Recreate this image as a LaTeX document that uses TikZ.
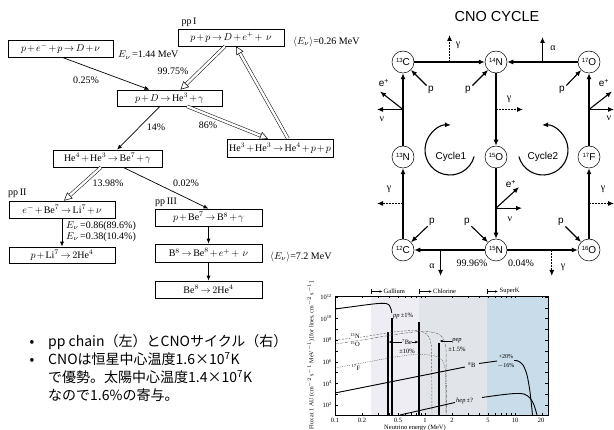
\documentclass[tikz,border=0pt]{standalone}
\usepackage{fontspec}
\setmainfont{Liberation Serif}
\newfontfamily\cnofont{Liberation Sans}
\newfontfamily\jpfont{Noto Sans CJK JP}
\usetikzlibrary{arrows.meta,calc}
\definecolor{gaband}{HTML}{EDEDF3}
\definecolor{clband}{HTML}{E1E4E8}
\definecolor{skband}{HTML}{C9DCEA}
\newcommand\myiso[2]{{\fontsize{6}{6}\selectfont\raisebox{3.2pt}{#1}}#2}
\newcommand\hollowarrow[2]{%
  \draw[hshaft, shorten >=5pt] (#1) -- (#2);
  \draw[hhead] ($(#2)!8pt!(#1)$) -- (#2);}
\begin{document}
\medmuskip=2mu
\thickmuskip=3mu
\begin{tikzpicture}[x=1pt,y=-1pt,
  rbox/.style={draw, line width=0.6pt, minimum width=106pt, minimum height=17pt, inner sep=0pt,
     font=\fontsize{10}{12}\selectfont},
  lbl/.style={inner sep=0pt, font=\fontsize{10}{12}\selectfont},
  sarr/.style={-{Latex[length=5pt,width=4pt]}, line width=0.7pt},
  hshaft/.style={double, double distance=2.4pt, line width=0.5pt},
  hhead/.style={-{Triangle[length=8pt,width=8pt,fill=white]}, line width=0.5pt},
  cn/.style={circle, draw, line width=0.5pt, minimum size=22pt, inner sep=0pt, font=\cnofont\fontsize{10}{10}\selectfont},
  ctxt/.style={inner sep=0pt, font=\cnofont\fontsize{10}{10}\selectfont},
  gtxt/.style={inner sep=0pt, font=\fontsize{10}{10}\selectfont},
  carr/.style={-{Latex[length=6pt,width=5pt]}, line width=1.1pt},
  darr/.style={carr, dash pattern=on 1.6pt off 1.4pt},
  ptxt/.style={inner sep=0pt, font=\fontsize{6.5}{7}\selectfont},
  pcurve/.style={line width=0.9pt},
  pline/.style={line width=1.1pt},
  parr/.style={-{Latex[length=3pt,width=2.5pt]}, line width=0.5pt},
  tk/.style={line width=0.4pt},
  jp/.style={inner sep=0pt, font=\jpfont\fontsize{14}{18}\selectfont}
]
\useasboundingbox (0,0) rectangle (614,430);

%% ---------------- pp chain ----------------
\node[rbox] (pp) at (231,37.5) {$p+p\to D+e^+ +\ \nu$};
\node[rbox, minimum width=105pt] (pep) at (60.5,48.5) {$p+e^-+p\to D+\nu$};
\node[rbox, minimum width=105pt, minimum height=16pt] (pD) at (169.5,98) {$p+D\to\mathrm{He}^3+\gamma$};
\node[rbox, minimum height=18pt] (HeHe) at (280,148) {$\mathrm{He}^3+\mathrm{He}^3\to\mathrm{He}^4+p+p$};
\node[rbox, minimum width=109pt] (HeBe) at (107.5,158.5) {$\mathrm{He}^4+\mathrm{He}^3\to\mathrm{Be}^7+\gamma$};
\node[rbox] (eBe) at (62,209.5) {$e^-+\mathrm{Be}^7\to\mathrm{Li}^7+\nu$};
\node[rbox, minimum height=16pt] (pLi) at (62,255) {$p+\mathrm{Li}^7\to 2\mathrm{He}^4$};
\node[rbox, minimum width=107pt] (pBe) at (208.5,217.5) {$p+\mathrm{Be}^7\to\mathrm{B}^8+\gamma$};
\node[rbox, minimum width=107pt, minimum height=18pt] (B8) at (208.5,253) {$\mathrm{B}^8\to\mathrm{Be}^8+e^+ +\ \nu$};
\node[rbox, minimum width=107pt] (Be8) at (208.5,289.5) {$\mathrm{Be}^8\to 2\mathrm{He}^4$};

\node[lbl] (ppIlab) at (189,22) {pp\,I};
\node[lbl, anchor=west] (ev026) at (293,42) {$\langle E_\nu\rangle$=0.26 MeV};
\node[lbl, anchor=west] (ev144) at (118,55) {$E_\nu$\,=1.44 MeV};
\node[lbl] (p9975) at (173,71) {99.75\%};
\node[lbl] (p025) at (86,80) {0.25\%};
\node[lbl] (p14) at (156,127) {14\%};
\node[lbl] (p86) at (208,125) {86\%};
\node[lbl] (p1398) at (108,183) {13.98\%};
\node[lbl] (p002) at (186,183) {0.02\%};
\node[lbl, anchor=west] (ppIIlab) at (8,193) {pp\,II};
\node[lbl, anchor=west] (ppIIIlab) at (155,202) {pp\,III};
\node[lbl, anchor=west] (ev086) at (66,226) {$E_\nu$\,=0.86(89.6\%)};
\node[lbl, anchor=west] (ev038) at (66,237) {$E_\nu$\,=0.38(10.4\%)};
\node[lbl, anchor=west] (ev72) at (270,257) {$\langle E_\nu\rangle$=7.2 MeV};

% hollow arrows
\coordinate (h1s) at ($(pp.south)+(-6,0)$);
\coordinate (h1e) at ($(pD.north)+(11,0)$);
\hollowarrow{h1s}{h1e}
\coordinate (h2s) at ($(HeHe.north)+(8,0)$);
\coordinate (h2e) at ($(pp.south)+(5,0)$);
\hollowarrow{h2s}{h2e}
\coordinate (h3s) at ($(pD.south)+(17.5,0)$);
\coordinate (h3e) at ($(HeHe.north)+(-12,0)$);
\hollowarrow{h3s}{h3e}
\coordinate (h4s) at ($(HeBe.south)+(-6.5,0)$);
\coordinate (h4e) at ($(eBe.north)+(2,0)$);
\hollowarrow{h4s}{h4e}
% solid arrows
\draw[sarr] ($(pep.south)+(1.5,0)$) -- ($(pD.north)+(-20,0)$);
\draw[sarr] ($(pD.south)+(-9.5,0)$) -- ($(HeBe.north)+(9.5,0)$);
\draw[sarr] ($(HeBe.south)+(15.5,0)$) -- (pBe.north);
\draw[sarr] (eBe.south) -- (pLi.north);
\draw[sarr] (pBe.south) -- (B8.north);
\draw[sarr] (B8.south) -- (Be8.north);

%% ---------------- CNO cycle ----------------
\node[inner sep=0pt, font=\cnofont\fontsize{14.5}{15}\selectfont] (title) at (497,17) {CNO CYCLE};
\node[cn] (C13) at (403,62) {\myiso{13}C};
\node[cn] (N14) at (496,62) {\myiso{14}N};
\node[cn] (O17) at (589,62) {\myiso{17}O};
\node[cn] (N13) at (403,157) {\myiso{13}N};
\node[cn] (O15) at (496,157) {\myiso{15}O};
\node[cn] (F17) at (589,157) {\myiso{17}F};
\node[cn] (C12) at (403,250) {\myiso{12}C};
\node[cn] (N15) at (496,250) {\myiso{15}N};
\node[cn] (O16) at (589,250) {\myiso{16}O};

\draw[carr] (C13) -- (N14);
\draw[carr] (O17) -- (N14);
\draw[carr] (N13) -- (C13);
\draw[carr] (N14) -- (O15);
\draw[carr] (F17) -- (O17);
\draw[carr] (O15) -- (N15);
\draw[carr] (C12) -- (N13);
\draw[carr] (N15) -- (C12);
\draw[carr] (N15) -- (O16);
\draw[carr] (O16) -- (F17);

% branches
\coordinate (b1) at ($(C13)!0.5!(N14)$);
\coordinate (b1e) at ($(b1)+(0,-27)$);
\draw[darr] (b1) -- (b1e);
\node[gtxt] (g1) at (458,45) {γ};
\coordinate (b2) at ($(N14)!0.5!(O17)$);
\coordinate (b2e) at ($(b2)+(0,-25)$);
\draw[carr] (b2) -- (b2e);
\node[gtxt] (a1) at (553,48) {α};
\coordinate (b3) at ($(C13)!0.5!(N13)$);
\coordinate (b3a) at ($(b3)+(-23,-18)$);
\coordinate (b3b) at ($(b3)+(-26,0)$);
\draw[carr] (b3) -- (b3a);
\draw[carr] (b3) -- (b3b);
\node[ctxt] (ep1) at (384,83) {e\textsuperscript{+}};
\node[gtxt] (nu1) at (382,119) {ν};
\coordinate (b4) at ($(N14)!0.5!(O15)$);
\coordinate (b4e) at ($(b4)+(27,0)$);
\draw[darr] (b4) -- (b4e);
\node[gtxt] (g2) at (509,99) {γ};
\coordinate (b5) at ($(O17)!0.5!(F17)$);
\coordinate (b5a) at ($(b5)+(23,-18)$);
\coordinate (b5b) at ($(b5)+(25,0)$);
\draw[carr] (b5) -- (b5a);
\draw[carr] (b5) -- (b5b);
\node[ctxt] (ep2) at (604,83) {e\textsuperscript{+}};
\node[gtxt] (nu2) at (609,118) {ν};
\coordinate (b6) at ($(N13)!0.5!(C12)$);
\coordinate (b6e) at ($(b6)+(-26,0)$);
\draw[darr] (b6) -- (b6e);
\node[gtxt] (g3) at (389,189) {γ};
\coordinate (b7) at ($(O15)!0.55!(N15)$);
\coordinate (b7a) at ($(b7)+(23,-21)$);
\coordinate (b7b) at ($(b7)+(26,0)$);
\draw[carr] (b7) -- (b7a);
\draw[carr] (b7) -- (b7b);
\node[ctxt] (ep3) at (511,184) {e\textsuperscript{+}};
\node[gtxt] (nu3) at (510,219) {ν};
\coordinate (b8) at ($(O16)!0.5!(F17)$);
\coordinate (b8e) at ($(b8)+(25,0)$);
\draw[darr] (b8) -- (b8e);
\node[gtxt] (g4) at (603,189) {γ};
\coordinate (b9) at ($(C12)!0.404!(N15)$);
\coordinate (b9e) at ($(b9)+(0,26)$);
\draw[carr] (b9) -- (b9e);
\node[gtxt] (a2) at (432,266) {α};
\coordinate (b10) at ($(N15)!0.6!(O16)$);
\coordinate (b10e) at ($(b10)+(0,26)$);
\draw[darr] (b10) -- (b10e);
\node[gtxt] (g5) at (563,267) {γ};

% protons
\node[ctxt] (p1) at (431,90) {p};
\node[ctxt] (p2) at (468,90) {p};
\node[ctxt] (p3) at (562,90) {p};
\node[ctxt] (p4) at (432,222) {p};
\node[ctxt] (p5) at (467,222) {p};
\node[ctxt] (p6) at (561,222) {p};
\draw[carr, shorten <=2pt] (p1) -- (C13);
\draw[carr, shorten <=2pt] (p2) -- (N14);
\draw[carr, shorten <=2pt] (p3) -- (O17);
\draw[carr, shorten <=2pt] (p4) -- (C12);
\draw[carr, shorten <=2pt] (p5) -- (N15);
\draw[carr, shorten <=2pt] (p6) -- (O16);

\node[gtxt] (pc1) at (472,263) {99.96\%};
\node[gtxt] (pc2) at (521,263) {0.04\%};

% cycles
\draw[carr] (450,150) ++(15:25) arc[start angle=15, end angle=272, radius=25];
\draw[carr] (543,150) ++(165:25) arc[start angle=165, end angle=-92, radius=25];
\node[ctxt] (cy1) at (451,157) {Cycle1};
\node[ctxt] (cy2) at (543,157) {Cycle2};

%% ---------------- neutrino spectrum ----------------
\fill[gaband] (371,296) rectangle (419,415);
\fill[clband] (419,296) rectangle (487,415);
\fill[skband] (487,296) rectangle (548,415);

% pp
\draw[pcurve] plot[smooth] coordinates {(335,309) (350,307) (365,305) (378,303.5) (386,303.5) (389.5,305.5) (391,309) (391.8,313)};
% lines
\draw[pline] (388,332) -- (388,415);
\draw[pline] (392,318) -- (392,415);
\draw[pline] (419,322) -- (419,415);
\draw[pline] (439,343) -- (439,415);
% CNO
\draw[gray!70!black, line width=0.45pt, dash pattern=on 2pt off 1.5pt] plot[smooth] coordinates {(335,340) (362,337) (390,332.5) (412,330.5) (423,332) (429,337) (431.5,346)} -- (432,415);
\draw[gray!70!black, line width=0.45pt, dash pattern=on 2.5pt off 1pt on 0.6pt off 1pt] plot[smooth] coordinates {(335,344) (362,340) (392,335) (420,331.5) (436,333) (443,338) (446,348)} -- (446.5,415);
\draw[gray!70!black, line width=0.45pt, dash pattern=on 0.8pt off 1pt] plot[smooth] coordinates {(335,368) (362,363) (392,357.5) (415,354.5) (433,355.5) (442,360) (445.5,370)} -- (446,415);
\node[ptxt, fill=white, inner sep=0.6pt] (n13lab) at (355,336) {\textsuperscript{13}N};
\node[ptxt, fill=white, inner sep=0.6pt] (o15lab) at (355,344) {\textsuperscript{15}O};
\node[ptxt, fill=white, inner sep=0.6pt] (f17lab) at (356,367.5) {\textsuperscript{17}F};
% 8B
\draw[pcurve] (335,393) -- (465,367);
\node[ptxt] (b8lab) at (472,365) {\textsuperscript{8}B};
\draw[pcurve] (479,363.5) -- (497,361);
\node[ptxt, font=\fontsize{6}{6}\selectfont] (b8up) at (506,357) {+20\%};
\node[ptxt, font=\fontsize{6}{6}\selectfont] (b8dn) at (506,365.5) {$-$16\%};
\draw[pcurve] plot[smooth] coordinates {(514,360.5) (518,361) (523,365) (527,375) (530,392) (532.5,415)};
% hep
\draw[pcurve] (400,415) -- (455,402.5);
\node[ptxt, anchor=west] (heplab) at (456,401) {\textit{hep}\,±?};
\draw[pcurve] plot[smooth] coordinates {(482,397.5) (500,395) (515,393.5) (524,394) (530,398) (534,405) (537,415)};
% labels
\node[ptxt, anchor=west] (pplab) at (393,316) {\textit{pp}\,±1\%};
\node[ptxt] (be7a) at (407,342) {\textsuperscript{7}Be};
\node[ptxt] (be7b) at (407,351.5) {±10\%};
\coordinate (be7l) at (388.6,342);
\coordinate (be7r) at (418.4,342);
\draw[parr] (be7a.west) -- (be7l);
\draw[parr] (be7a.east) -- (be7r);
\node[ptxt] (peplab) at (457,341) {\textit{pep}};
\node[ptxt] (peperr) at (457,349.5) {±1.5\%};
\coordinate (pepl) at (439.6,341);
\draw[parr] (peplab.west) -- (pepl);
% frame and ticks
\draw[line width=0.5pt] (335,296) rectangle (548,415);
\foreach \d in {0,1} \foreach \m in {1,...,9} {
  \draw[tk] ({335+90*(\d+ln(\m)/ln(10))},415) -- ++(0,-2);
  \draw[tk] ({335+90*(\d+ln(\m)/ln(10))},296) -- ++(0,2);
}
\draw[tk] (515,415) -- ++(0,-2); \draw[tk] (542,415) -- ++(0,-2);
\draw[tk] (515,296) -- ++(0,2); \draw[tk] (542,296) -- ++(0,2);
\foreach \e in {2,...,12} {
  \draw[tk] (335,{297+10.8*(12-\e)}) -- ++(3,0);
  \draw[tk] (548,{297+10.8*(12-\e)}) -- ++(-3,0);
}
\foreach \e in {2,4,...,12}
  \node[ptxt, anchor=east] (yl\e) at (332,{297+10.8*(12-\e)}) {10\textsuperscript{\e}};
\foreach \v/\xx in {0.1/335, 0.2/362, 0.5/398, 1/425, 2/452, 5/488, 10/515, 20/541}
  \node[ptxt] (xl\xx) at (\xx,420.5) {\v};
\node[ptxt] (xlab) at (415,427.5) {Neutrino energy (MeV)};
\node[ptxt, rotate=90, font=\fontsize{6}{7}\selectfont] (ylab) at (311,355.5) {Flux at 1 AU (cm$^{-2}$ s$^{-1}$ MeV$^{-1}$) [for lines, cm$^{-2}$ s$^{-1}$]};
% detector thresholds
\draw[tk] (371,289) -- (371,294);
\draw[parr] (371,291.5) -- (382.5,291.5);
\node[ptxt, anchor=west] (galab) at (383.5,291.5) {Gallium};
\draw[tk] (419,289) -- (419,294);
\draw[parr] (419,291.5) -- (432,291.5);
\node[ptxt, anchor=west] (cllab) at (433,291.5) {Chlorine};
\draw[tk] (487,289) -- (487,294);
\draw[parr] (487,291.5) -- (498,291.5);
\node[ptxt, anchor=west] (sklab) at (499.5,291.5) {SuperK};

%% ---------------- bullets ----------------
\node[jp, anchor=base] (bu1) at (32,347) {•};
\node[jp, anchor=base] (bu2) at (32,365) {•};
\node[jp, anchor=base west] (t1) at (48,347) {pp chain（左）とCNOサイクル（右）};
\node[jp, anchor=base west] (t2) at (48,365) {CNOは恒星中心温度1.6×10\textsuperscript{7}K};
\node[jp, anchor=base west] (t3) at (48,383) {で優勢。太陽中心温度1.4×10\textsuperscript{7}K};
\node[jp, anchor=base west] (t4) at (48,401) {なので1.6\%の寄与。};
\end{tikzpicture}
\end{document}
